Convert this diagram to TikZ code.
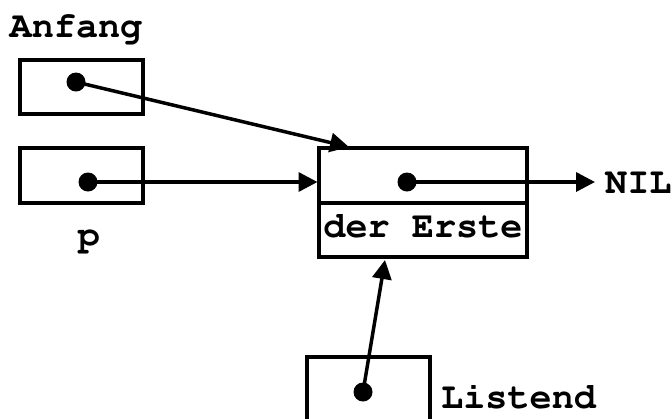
\documentclass[tikz,border=0pt]{standalone}
\usepackage[T1]{fontenc}
\usetikzlibrary{arrows.meta}

\tikzset{
  cell/.style={draw, line width=4bp, inner sep=0pt, outer sep=0pt, fill=white},
  ptr/.style={line width=3.5bp, -{Triangle[length=19bp, width=19bp]}},
  dot/.style={fill, circle, minimum size=19bp, inner sep=0pt},
  lbl/.style={inner sep=0pt, font=\fontfamily{pcr}\fontseries{b}\fontsize{37}{40}\selectfont},
}

\begin{document}
\begin{tikzpicture}[x=1bp, y=-1bp]
  \useasboundingbox (0,0) rectangle (672,418);
  \clip (0,0) rectangle (672,418);

  % pointer variables on the left
  \node[lbl, anchor=base] (anfanglbl) at (76,37) {Anfang};
  \node[cell, minimum width=123bp, minimum height=54bp] (anfang) at (81.5,87) {};
  \node[cell, minimum width=123bp, minimum height=55bp] (p) at (81.5,175.5) {};
  \node[lbl, anchor=base] (plbl) at (89,246) {p};

  % the list element: pointer field above, data field below
  \node[cell, minimum width=208bp, minimum height=55bp] (next) at (423,175.5) {};
  \node[cell, minimum width=208bp, minimum height=54bp, lbl, text height=14bp, text depth=0pt,
        line width=4bp, draw] (data) at (423,230) {der Erste};

  % end pointer at the bottom
  \node[cell, minimum width=123bp, minimum height=80bp] (listend) at (368.5,397) {};
  \node[lbl, anchor=base west] (listendlbl) at (441,408) {Listend};

  \node[lbl, anchor=base west] (nil) at (605,193) {NIL};

  % pointer values
  \coordinate (adot) at (76,82);
  \coordinate (pdot) at (88,182);
  \coordinate (ndot) at (407,182);
  \coordinate (ldot) at (363,392);
  \coordinate (ahit) at (349,147);
  \coordinate (lhit) at (385,260);

  \draw[ptr] (adot) -- (ahit);
  \draw[ptr, shorten >=1.5bp] (pdot) -- (pdot -| next.west);
  \draw[ptr, shorten >=10bp] (ndot) -- (ndot -| nil.west);
  \draw[ptr] (ldot) -- (lhit);

  \foreach \d in {adot, pdot, ndot, ldot}
    \node[dot] at (\d) {};
\end{tikzpicture}
\end{document}
